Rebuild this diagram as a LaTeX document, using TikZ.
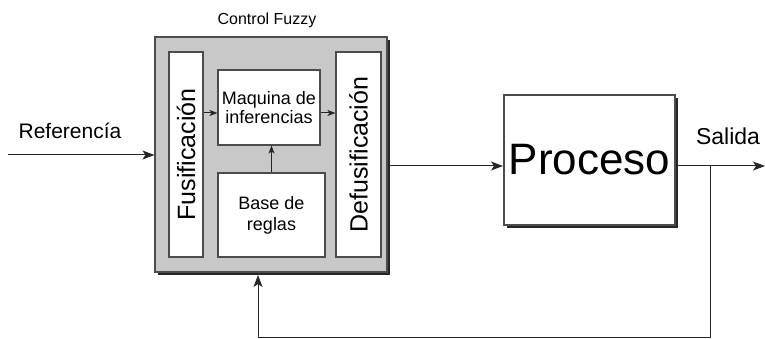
\documentclass[tikz,border=0pt]{standalone}
\usepackage{fontspec}
\setmainfont{Liberation Sans}
\usetikzlibrary{arrows.meta,shadows}
\definecolor{gris}{RGB}{200,200,200}

\begin{document}
\begin{tikzpicture}[x=1pt,y=-1pt,
    every node/.style={inner sep=0pt,align=center},
    caja/.style={draw=black!70,fill=white,line width=1.1pt},
    sombra/.style={drop shadow={shadow xshift=3pt,shadow yshift=-3pt,opacity=1,fill=black!85}},
    flecha/.style={draw=black!85,line width=1pt,-{Stealth[length=12pt,width=9pt,inset=3pt]}},
    flechita/.style={draw=black!85,line width=1pt,-{Stealth[length=8pt,width=6pt,inset=2pt]}}]

  \useasboundingbox (0,0) rectangle (765,339);

  % controlador difuso
  \node[caja,sombra,fill=gris,minimum width=232pt,minimum height=235pt] (ctrl) at (271,154.5) {};
  \node[font=\fontsize{16}{19}\selectfont] (tit) at (267,20) {Control Fuzzy};

  \node[caja,minimum width=34pt,minimum height=205pt,font=\fontsize{25}{30}\selectfont] (fus) at (186,154.5) {\rotatebox{90}{Fusificación}};
  \node[caja,minimum width=102pt,minimum height=75pt,font=\fontsize{18}{19}\selectfont] (maq) at (269,107.5) {Maquina de\\inferencias};
  \node[caja,minimum width=107pt,minimum height=84pt,font=\fontsize{18}{21}\selectfont] (base) at (271.5,215) {Base de\\reglas};
  \node[caja,minimum width=45pt,minimum height=205pt,font=\fontsize{25}{30}\selectfont] (defus) at (358.5,154.5) {\rotatebox{90}{Defusificación}};

  \coordinate (m) at (0,113);
    \draw[flechita] (fus.east |- m) -- (maq.west |- m);
    \draw[flechita] (maq.east |- m) -- (defus.west |- m);
    \draw[flechita] (base.north) -- (base.north |- maq.south);

  % planta
  \node[caja,sombra,minimum width=171pt,minimum height=130pt,font=\fontsize{44}{50}\selectfont] (proc) at (589.5,160) {Proceso};

  \node[font=\fontsize{21}{24}\selectfont] (ref) at (70,131) {Referencía};
  \node[font=\fontsize{23}{26}\selectfont] (sal) at (728,136) {Salida};

  \coordinate (in) at (8,155);
  \coordinate (tap) at (710,166);
  \coordinate (out) at (765,166);
  \coordinate (fb) at (258,337);
  \coordinate (fbin) at (258,275);

    \draw[flecha] (in) -- (in -| ctrl.west);
    \draw[flecha] (ctrl.east |- tap) -- ([xshift=-0.5pt]proc.west |- tap);
    \draw[flecha] (proc.east |- tap) -- (out);
    \draw[flecha] (tap) |- (fb) -- (fbin);

\end{tikzpicture}
\end{document}
